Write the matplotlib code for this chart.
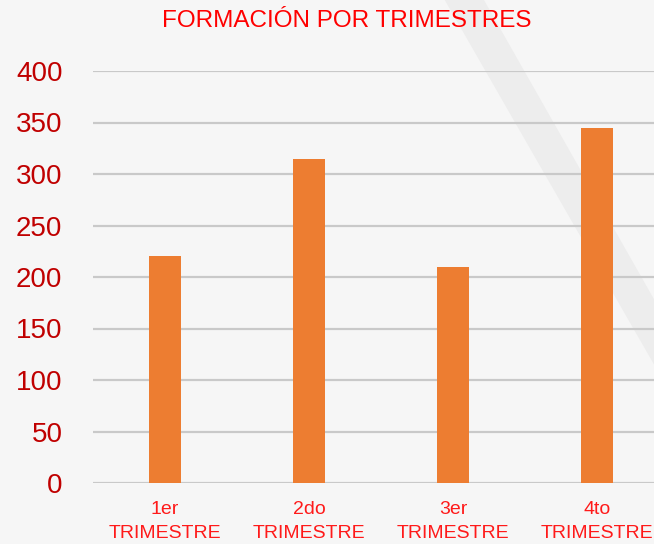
import matplotlib.pyplot as plt
from matplotlib.patches import Polygon

trimestres = ['1er\nTRIMESTRE', '2do\nTRIMESTRE', '3er\nTRIMESTRE', '4to\nTRIMESTRE']
formacion = [220, 315, 210, 345]
yticks = [0, 50, 100, 150, 200, 250, 300, 350, 400]

plt.rcParams['font.family'] = ['Liberation Sans', 'DejaVu Sans']

fig = plt.figure(figsize=(6.54, 5.44), dpi=100, facecolor='#f6f6f6')

# faint diagonal streak of the slide background, behind everything
bg = fig.add_axes([0, 0, 1, 1], zorder=-1)
bg.set_xlim(0, 1)
bg.set_ylim(0, 1)
bg.axis('off')
bg.add_patch(Polygon([(0.68, 1.0), (0.74, 1.0), (1.0, 0.45), (1.0, 0.33)],
                     closed=True, facecolor='#ededed', edgecolor='none'))

ax = fig.add_axes([93 / 654, 61 / 544, 561 / 654, 412 / 544])
ax.patch.set_alpha(0)

x = range(len(trimestres))
ax.bar(x, formacion, width=0.22, color='#ed7d31', zorder=3)

ax.set_ylim(0, 400)
ax.set_xlim(-0.5, -0.5 + 561 / 144)
ax.set_yticks(yticks)
ax.set_xticks(list(x))
ax.set_xticklabels(trimestres, color='#ff1a1a', fontsize=14, linespacing=1.5)
ax.tick_params(axis='y', labelcolor='#c00000', labelsize=20, length=0, pad=22)
ax.tick_params(axis='x', length=0, pad=13)

ax.grid(axis='y', color='#c9c9c9', linewidth=1.6, zorder=1)
for s in ax.spines.values():
    s.set_visible(False)

fig.text(347 / 654, 1 - 21 / 544, 'FORMACIÓN POR TRIMESTRES', color='#ff0000',
         fontsize=17.5, ha='center', va='center')

plt.savefig('out.png', dpi=100, facecolor=fig.get_facecolor())
